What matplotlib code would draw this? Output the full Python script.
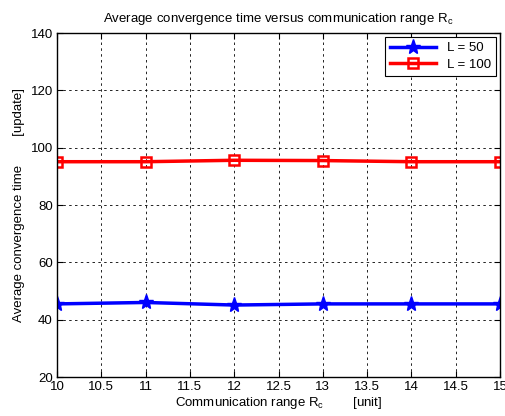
import numpy as np
from matplotlib import pyplot as plt

plt.rcParams["font.family"] = ["Liberation Sans", "DejaVu Sans"]
plt.rcParams["mathtext.fontset"] = "custom"
plt.rcParams["mathtext.rm"] = "Liberation Sans"
plt.rcParams["mathtext.it"] = "Liberation Sans"

# Data
RANGE = [10, 11, 12, 13, 14, 15]
TIME_L50 = [45.5, 46.0, 45.1, 45.5, 45.5, 45.5]
TIME_L100 = [95.1, 95.1, 95.6, 95.5, 95.1, 95.1]
XTICKS = [10, 10.5, 11, 11.5, 12, 12.5, 13, 13.5, 14, 14.5, 15]
YTICKS = [20, 40, 60, 80, 100, 120, 140]


def main() -> None:
    fig = plt.figure(figsize=(5.05, 4.16), dpi=100)
    ax = fig.add_axes([57 / 505, 1 - 377 / 416, 443 / 505, 344 / 416])

    ax.plot(RANGE, TIME_L50, color="blue", linewidth=2.5, marker="*",
            markersize=11, label="L = 50")
    ax.plot(RANGE, TIME_L100, color="red", linewidth=2.5, marker="s",
            markersize=6.5, markerfacecolor="none", markeredgewidth=1.8,
            label="L = 100")

    ax.set_xlim(10, 15)
    ax.set_ylim(20, 140)
    ax.set_xticks(XTICKS)
    ax.set_xticklabels([f"{t:g}" for t in XTICKS])
    ax.set_yticks(YTICKS)
    ax.tick_params(direction="in", top=True, right=True, labelsize=9.5,
                   length=4, width=0.8, pad=3)
    ax.grid(True, color="black", linestyle=(0, (3, 4)), linewidth=0.6)
    for s in ax.spines.values():
        s.set_linewidth(1.0)

    ax.set_title("Average convergence time versus communication range R$_\\mathregular{c}$",
                 fontsize=9.5, pad=8)
    ax.set_xlabel("Communication range R$_\\mathregular{c}$        [unit]",
                  fontsize=9.5, labelpad=1)
    ax.set_ylabel("Average convergence time        [update]", fontsize=9.5,
                  labelpad=4)

    leg = ax.legend(loc="upper right", fontsize=9.5, fancybox=False,
                    framealpha=1, edgecolor="black", handlelength=3.5,
                    borderaxespad=0.3, labelspacing=0.3)
    leg.get_frame().set_linewidth(0.8)

    plt.savefig("out.png", dpi=100)


if __name__ == "__main__":
    main()
